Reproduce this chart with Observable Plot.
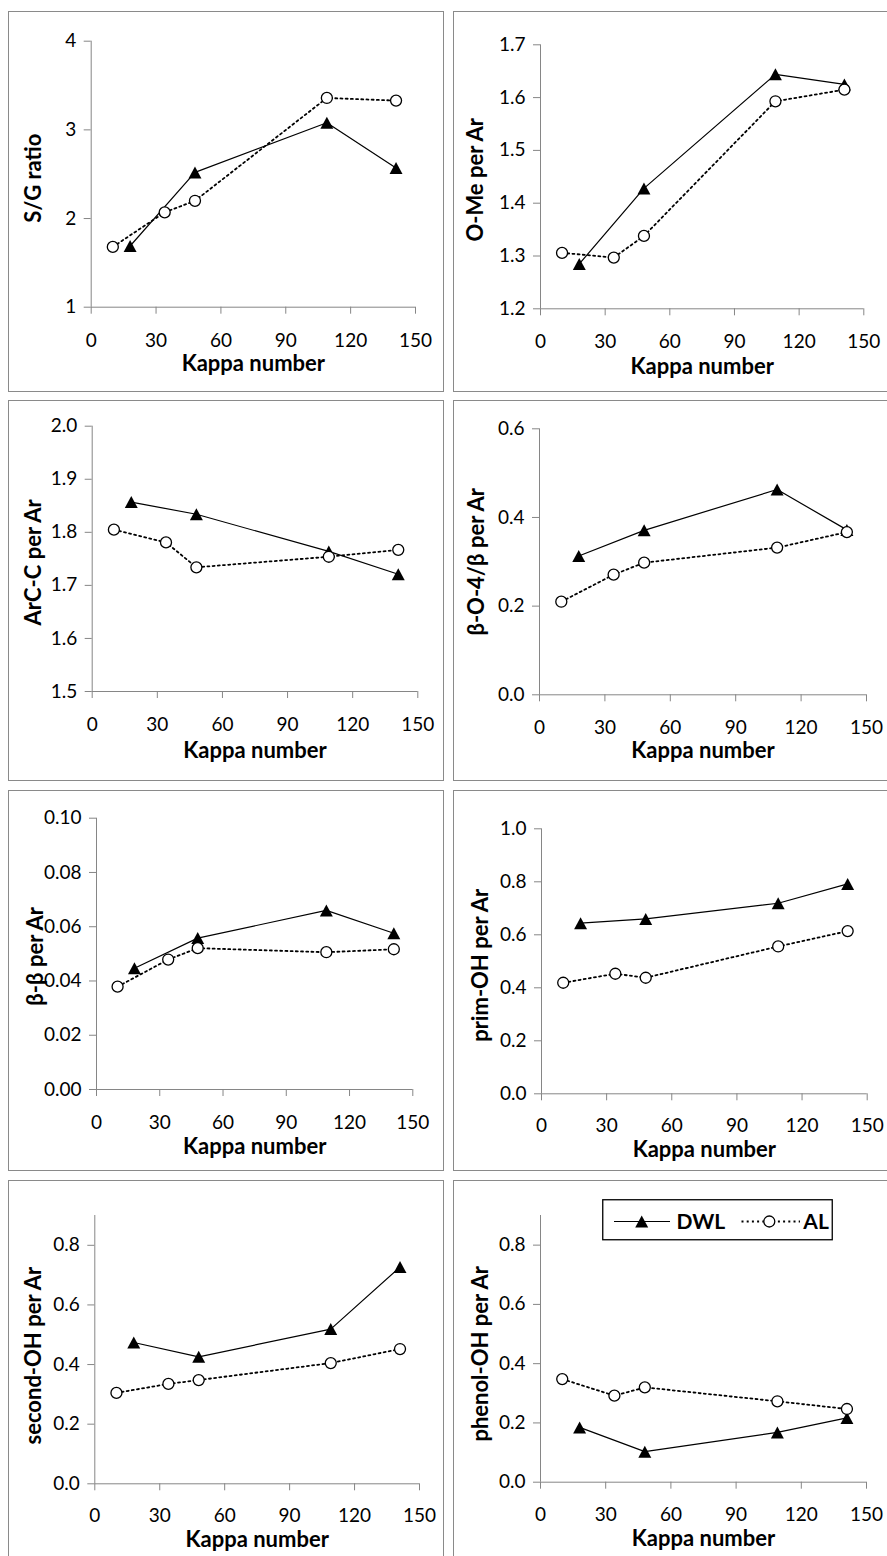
<!DOCTYPE html>
<html>
<head>
<meta charset="utf-8">
<script src="https://cdn.jsdelivr.net/npm/d3@7"></script>
<script src="https://cdn.jsdelivr.net/npm/@observablehq/plot@0.6"></script>
<style>
  html, body { margin: 0; padding: 0; background: #fff; }
  #fig { position: relative; width: 887px; height: 1556px; overflow: hidden; font-family: Lato, "Open Sans", sans-serif; }
  .panel-border { position: absolute; box-sizing: border-box; border: 1.5px solid #8a8a8a; }
  .panel { position: absolute; }
  .legend { position: absolute; }
</style>
</head>
<body>
<div id="fig"></div>
<script>
// Kappa numbers of the pulps for each lignin series
const kappaDWL = [18, 48, 109, 141];
const kappaAL  = [10, 34, 48, 109, 141];
const kappaTicks = [0, 30, 60, 90, 120, 150];

// Structural features (per aromatic ring) – DWL and AL series
const sgDWL   = [1.69, 2.52, 3.08, 2.57];
const sgAL    = [1.68, 2.07, 2.20, 3.36, 3.33];
const omeDWL  = [1.285, 1.428, 1.644, 1.625];
const omeAL   = [1.306, 1.297, 1.338, 1.593, 1.615];
const arccDWL = [1.857, 1.834, 1.764, 1.721];
const arccAL  = [1.805, 1.781, 1.734, 1.754, 1.767];
const bo4DWL  = [0.313, 0.371, 0.463, 0.372];
const bo4AL   = [0.210, 0.271, 0.298, 0.332, 0.367];
const bbDWL   = [0.0447, 0.0558, 0.0660, 0.0576];
const bbAL    = [0.0379, 0.0479, 0.0521, 0.0506, 0.0517];
const primDWL = [0.644, 0.660, 0.719, 0.792];
const primAL  = [0.419, 0.453, 0.438, 0.556, 0.614];
const secDWL  = [0.474, 0.426, 0.519, 0.727];
const secAL   = [0.305, 0.335, 0.348, 0.405, 0.452];
const phenDWL = [0.185, 0.103, 0.168, 0.217];
const phenAL  = [0.348, 0.292, 0.320, 0.273, 0.247];

// y-axis labels, domains and tick values
const yLabels = ["S/G ratio", "O-Me per Ar", "ArC-C per Ar", "β-O-4/β per Ar",
                 "β-β per Ar", "prim-OH per Ar", "second-OH per Ar", "phenol-OH per Ar"];
const yDomains = [[1, 4], [1.2, 1.7], [1.5, 2.0], [0, 0.6], [0, 0.1], [0, 1.0], [0, 0.9], [0, 0.9]];
const yTicks = [
  [1, 2, 3, 4],
  [1.2, 1.3, 1.4, 1.5, 1.6, 1.7],
  [1.5, 1.6, 1.7, 1.8, 1.9, 2.0],
  [0, 0.2, 0.4, 0.6],
  [0, 0.02, 0.04, 0.06, 0.08, 0.10],
  [0, 0.2, 0.4, 0.6, 0.8, 1.0],
  [0, 0.2, 0.4, 0.6, 0.8],
  [0, 0.2, 0.4, 0.6, 0.8]
];
const yFormats = ["d", ".1f", ".1f", ".1f", ".2f", ".1f", ".1f", ".1f"];
const xLabel = "Kappa number";
const seriesNames = ["DWL", "AL"];

const seriesDWL = [sgDWL, omeDWL, arccDWL, bo4DWL, bbDWL, primDWL, secDWL, phenDWL];
const seriesAL  = [sgAL, omeAL, arccAL, bo4AL, bbAL, primAL, secAL, phenAL];

// Panel geometry (layout only): margins [top, right, bottom, left],
// x-label offset below the axis, y-label centre, y-label vertical shift, x tick padding
const PW = 434, PH = 379;
const layout = [
  {left: 9,   top: 12,   m: [28.7, 28,   84.3, 81.7], xl: 56.3, yl: 24,   yo: 4,   tp: 19},
  {left: 454, top: 12,   m: [32.3, 24.7, 82.7, 86],   xl: 58.4, yl: 21,   yo: 3,   tp: 19},
  {left: 9,   top: 401,  m: [24.7, 25.7, 89,   82.7], xl: 59,   yl: 24,   yo: 3.5, tp: 19},
  {left: 454, top: 401,  m: [27.3, 22,   85.7, 85],   xl: 55.7, yl: 22.7, yo: 0,   tp: 19},
  {left: 9,   top: 791,  m: [26.7, 30.7, 81,   87],   xl: 57.7, yl: 26,   yo: 2.5, tp: 19},
  {left: 454, top: 791,  m: [37.3, 21.3, 76.7, 87],   xl: 56.5, yl: 26,   yo: 4,   tp: 18},
  {left: 9,   top: 1181, m: [34,   24,   76.7, 85.3], xl: 56.5, yl: 24,   yo: 6,   tp: 18},
  {left: 454, top: 1181, m: [34,   22,   78.3, 86],   xl: 56.5, yl: 26,   yo: 5,   tp: 18}
];

// Filled up-triangle centred on its bounding box
const triangleUp = {
  draw(ctx, size) {
    const r = Math.sqrt(size / Math.PI);
    const w = r * 1.08, h = r;
    ctx.moveTo(0, -h);
    ctx.lineTo(w, h);
    ctx.lineTo(-w, h);
    ctx.closePath();
  }
};

const AXIS = "#868686";
const fig = document.getElementById("fig");

layout.forEach((L, i) => {
  const dwl = kappaDWL.map((k, j) => ({kappa: k, value: seriesDWL[i][j]}));
  const al  = kappaAL.map((k, j) => ({kappa: k, value: seriesAL[i][j]}));
  const [mt, mr, mb, ml] = L.m;

  const border = document.createElement("div");
  border.className = "panel-border";
  Object.assign(border.style, {left: (L.left - 0.75) + "px", top: (L.top - 0.75) + "px",
    width: (PW + 1.5) + "px", height: (PH + 1.5) + "px"});
  fig.appendChild(border);

  const chart = Plot.plot({
    width: PW, height: PH,
    marginTop: mt, marginRight: mr, marginBottom: mb, marginLeft: ml,
    style: {fontFamily: "Lato, 'Open Sans', sans-serif", fontSize: "19px", background: "transparent", color: "#000"},
    x: {domain: [0, 150], axis: null},
    y: {domain: yDomains[i], axis: null},
    marks: [
      Plot.ruleX([0], {stroke: AXIS, strokeWidth: 1}),
      Plot.ruleY([yDomains[i][0]], {stroke: AXIS, strokeWidth: 1}),
      Plot.axisX({ticks: kappaTicks, tickSize: 7, tickPadding: L.tp, stroke: AXIS, fill: "#000", label: null, tickFormat: "d"}),
      Plot.axisY({ticks: yTicks[i], tickSize: 7, tickPadding: 8, stroke: AXIS, fill: "#000", label: null, tickFormat: yFormats[i]}),
      Plot.line(dwl, {x: "kappa", y: "value", stroke: "#000", strokeWidth: 1.2}),
      Plot.dot(dwl, {x: "kappa", y: "value", symbol: triangleUp, r: 6, fill: "#000", stroke: "none"}),
      Plot.line(al, {x: "kappa", y: "value", stroke: "#000", strokeWidth: 1.8, strokeDasharray: "2,3.2"}),
      Plot.dot(al, {x: "kappa", y: "value", r: 5.5, fill: "#fff", stroke: "#000", strokeWidth: 1.3}),
      Plot.text([yLabels[i]], {text: d => d, frameAnchor: "left", textAnchor: "middle", lineAnchor: "middle",
        rotate: -90, dx: L.yl - ml, dy: L.yo, fontSize: 22, fontWeight: "bold", fill: "#000"}),
      Plot.text([xLabel], {text: d => d, frameAnchor: "bottom", textAnchor: "middle", lineAnchor: "middle",
        dy: L.xl, fontSize: 22, fontWeight: "bold", fill: "#000"})
    ]
  });
  chart.classList.add("panel");
  chart.style.left = L.left + "px";
  chart.style.top = L.top + "px";
  fig.appendChild(chart);
});

// Legend for the two series, placed in the last panel
(function legend() {
  const w = 231, h = 41.5;
  const div = document.createElement("div");
  div.className = "legend";
  Object.assign(div.style, {left: "602px", top: "1199px", width: w + "px", height: h + "px"});
  const svg = d3.select(div).append("svg").attr("width", w).attr("height", h)
    .style("display", "block").style("font-family", "Lato, 'Open Sans', sans-serif");
  svg.append("rect").attr("x", 0.75).attr("y", 0.75).attr("width", w - 1.5).attr("height", h - 1.5)
    .attr("fill", "#fff").attr("stroke", "#000").attr("stroke-width", 1.3);
  const cy = 22.5;
  // DWL
  svg.append("line").attr("x1", 12).attr("x2", 68).attr("y1", cy).attr("y2", cy)
    .attr("stroke", "#000").attr("stroke-width", 1.2);
  svg.append("path").attr("d", "M0,-6L6.5,6L-6.5,6Z").attr("transform", `translate(39.7,${cy})`).attr("fill", "#000");
  svg.append("text").attr("x", 74.5).attr("y", cy).attr("dy", "0.36em").attr("font-size", 21)
    .attr("font-weight", "bold").text(seriesNames[0]);
  // AL
  svg.append("line").attr("x1", 139.5).attr("x2", 198).attr("y1", cy).attr("y2", cy)
    .attr("stroke", "#000").attr("stroke-width", 1.8).attr("stroke-dasharray", "2,3.2");
  svg.append("circle").attr("cx", 167.3).attr("cy", cy).attr("r", 5.5)
    .attr("fill", "#fff").attr("stroke", "#000").attr("stroke-width", 1.3);
  svg.append("text").attr("x", 201.3).attr("y", cy).attr("dy", "0.36em").attr("font-size", 21)
    .attr("font-weight", "bold").text(seriesNames[1]);
  fig.appendChild(div);
})();
</script>
</body>
</html>
